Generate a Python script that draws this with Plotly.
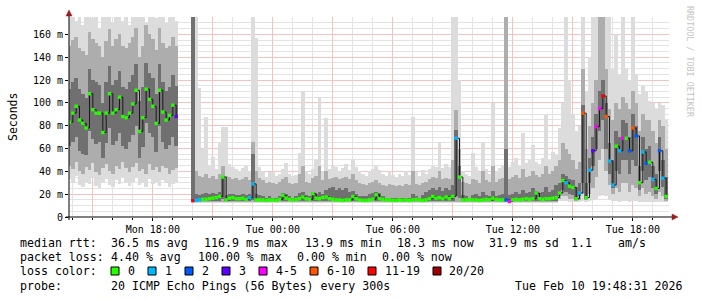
import plotly.graph_objects as go
from datetime import datetime, timedelta

# ---------------- data: 10-minute steps starting Mon 2026-02-09 13:50 ----------------
start_time = datetime(2026, 2, 9, 13, 50)
step_minutes = 10

median_ms = (
    [83, 91, 97, 85, 82, 78, 108, 94, 91, 91, 74, 91, 108, 91, 94, 105, 88, 87, 91, 99,
     111, 75, 87, 112, 103, 97, 82, 111, 92, 85, 89, 98, 88]
    + [None, None, None, None]
    + [14.3]
    + [14.5, 15, 15.5, 15.5, 16, 16.5, 17, 18, 35, 15,
       16.5, 17, 16, 16, 16.5, 15.5, 17, 29, 15, 15,
       15, 14.5, 15, 15, 14.5, 15.5, 19, 16.5, 15.5, 15,
       15.5, 16, 17.5, 16, 15.5, 20.5, 16.5, 16, 17, 17.5,
       16, 15.5, 15, 15, 14.5, 15, 15, 18, 16, 15,
       14.5, 14.5, 15, 15.5, 19.5, 16, 15.5, 15, 15, 14.5,
       14.5, 15, 14.5, 15, 14.5, 15, 15.5, 15, 14.5, 15,
       16, 18, 16.5, 17, 16, 17.5, 16, 18, 69, 35,
       15, 15, 15.5, 15, 15, 14.5, 15, 15.5, 15, 16.5,
       15.5, 15, 15, 15, 13.6, 15, 15.5, 15, 15.5, 16,
       15.5, 16, 21, 16, 15.5, 16, 16, 16.5, 17]
    + [21, 32, 30, 27, 26, 16, 21, 91, 17, 41, 58, 79, 95, 106, 88, 49, 28, 62, 58, 69,
       69, 58, 78, 71, 30, 57, 47, 48, 33, 25, 58, 34, 18]
)

loss_pings = (
    [0] * 32 + [3]
    + [None, None, None, None]
    + [15]
    + [1, 1, 0, 0, 0, 0, 0, 0, 0, 0,
       0, 0, 0, 0, 0, 0, 1, 1, 0, 0,
       0, 0, 0, 0, 0, 0, 0, 0, 0, 0,
       0, 0, 0, 0, 0, 0, 0, 0, 0, 0,
       0, 0, 0, 0, 0, 0, 0, 0, 0, 0,
       0, 0, 0, 0, 0, 0, 0, 0, 0, 0,
       0, 0, 0, 0, 0, 0, 0, 0, 0, 0,
       0, 0, 0, 0, 0, 0, 0, 0, 1, 0,
       0, 0, 0, 0, 0, 0, 0, 0, 0, 0,
       0, 0, 0, 2, 4, 0, 0, 0, 0, 0,
       0, 0, 0, 0, 0, 0, 0, 0, 0]
    + [0, 0, 1, 0, 0, 0, 1, 8, 0, 1, 3, 4, 5, 15, 8, 1, 1, 0, 1, 4,
       0, 2, 8, 2, 0, 1, 2, 0, 1, 0, 2, 1, 0]
)

smoke_min = (
    [33, 30, 36, 28, 26, 31, 29, 34, 27, 25, 30, 33, 28, 26, 32, 29, 35, 30, 27, 31,
     34, 28, 30, 26, 33, 29, 31, 27, 32, 30, 26, 29, 31]
    + [None, None, None, None]
    + [13]
    + [12, 12, 12, 12, 12, 12, 12, 12, 12, 12, 12, 12, 12, 12, 12, 12, 12, 12, 12, 12,
       12, 12, 12, 12, 12, 12, 12, 12, 12, 12, 12, 12, 12, 12, 12, 12, 12, 12, 12, 12,
       12, 12, 12, 12, 12, 12, 12, 12, 12, 12, 12, 12, 12, 12, 12, 12, 12, 12, 12, 12,
       12, 12, 12, 12, 12, 12, 12, 12, 12, 12, 12, 12, 12, 12, 12, 12, 12, 12, 12, 12,
       12, 12, 12, 12, 12, 12, 12, 12, 12, 12, 12, 12, 12, 12, 12, 12, 12, 12, 12, 12,
       12, 12, 12, 12, 12, 12, 12, 12, 12]
    + [14, 14, 14, 13, 13, 13, 13, 14, 13, 14, 15, 16, 18, 20, 18, 15, 14, 14, 13, 14,
       14, 13, 14, 14, 13, 13, 13, 13, 13, 13, 13, 13, 13]
)

smoke_p10 = (
    [45, 42, 48, 40, 38, 44, 41, 47, 39, 37, 43, 46, 40, 38, 45, 42, 48, 43, 39, 44,
     47, 40, 42, 38, 46, 41, 44, 39, 45, 43, 38, 41, 43]
    + [None, None, None, None]
    + [13.5]
    + [13, 13, 13, 13, 13, 13, 13, 13, 13, 13, 13, 13, 13, 13, 13, 13, 13, 13, 13, 13,
       13, 13, 13, 13, 13, 13, 13, 13, 13, 13, 13, 13, 13, 13, 13, 13, 13, 13, 13, 13,
       13, 13, 13, 13, 13, 13, 13, 13, 13, 13, 13, 13, 13, 13, 13, 13, 13, 13, 13, 13,
       13, 13, 13, 13, 13, 13, 13, 13, 13, 13, 13, 13, 13, 13, 13, 13, 13, 13, 13, 13,
       13, 13, 13, 13, 13, 13, 13, 13, 13, 13, 13, 13, 13, 13, 13, 13, 13, 13, 13, 13,
       13, 13, 13, 13, 13, 13, 13, 13, 13]
    + [16, 18, 18, 16, 16, 14, 15, 20, 15, 20, 25, 35, 50, 60, 40, 28, 20, 25, 22, 30,
       30, 22, 28, 25, 18, 25, 20, 22, 18, 16, 22, 18, 14]
)

smoke_p30 = (
    [62, 66, 70, 58, 55, 54, 75, 68, 64, 66, 52, 65, 78, 63, 67, 74, 62, 60, 66, 72,
     80, 52, 61, 82, 74, 70, 57, 80, 66, 60, 63, 70, 62]
    + [None, None, None, None]
    + [14]
    + [14, 14, 14, 14, 14, 14, 14, 14, 16, 14, 14, 14, 14, 14, 14, 14, 14, 15, 14, 14,
       14, 14, 14, 14, 14, 14, 14, 14, 14, 14, 14, 14, 14, 14, 14, 14, 14, 14, 14, 14,
       14, 14, 14, 14, 14, 14, 14, 14, 14, 14, 14, 14, 14, 14, 14, 14, 14, 14, 14, 14,
       14, 14, 14, 14, 14, 14, 14, 14, 14, 14, 14, 14, 14, 14, 14, 14, 14, 14, 18, 17,
       14, 14, 14, 14, 14, 14, 14, 14, 14, 14, 14, 14, 14, 14, 14, 14, 14, 14, 14, 14,
       14, 14, 14, 14, 14, 14, 14, 14, 14]
    + [18, 24, 22, 20, 19, 15, 18, 30, 16, 30, 45, 60, 75, 85, 60, 38, 25, 40, 38, 50,
       50, 38, 50, 45, 24, 40, 32, 35, 25, 20, 40, 26, 16]
)

smoke_p70 = (
    [112, 118, 122, 112, 108, 104, 130, 120, 118, 116, 100, 118, 132, 116, 120, 128, 114, 112, 118, 124,
     134, 102, 114, 135, 126, 122, 108, 134, 118, 110, 114, 124, 115]
    + [None, None, None, None]
    + [180]
    + [20, 19, 20, 21, 20, 21, 20, 22, 36, 19, 20, 20, 19, 19, 20, 19, 20, 55, 20, 19,
       18, 17, 18, 17, 17, 18, 21, 20, 18, 17, 18, 21, 22, 19, 18, 22, 20, 22, 20, 24,
       25, 26, 24, 25, 24, 25, 22, 23, 20, 18, 18, 18, 20, 21, 22, 21, 18, 17, 17, 17,
       17, 17, 17, 17, 17, 20, 18, 17, 19, 22, 24, 25, 24, 26, 23, 25, 24, 28, 76, 45,
       19, 18, 17, 19, 20, 18, 22, 19, 18, 23, 18, 19, 20, 60, 19, 20, 22, 20, 24, 21,
       22, 25, 23, 21, 22, 26, 22, 24, 28]
    + [30, 38, 36, 33, 32, 26, 30, 98, 30, 52, 70, 90, 110, 120, 100, 65, 50, 75, 70, 85,
       82, 70, 90, 80, 45, 70, 60, 62, 45, 38, 70, 50, 35]
)

smoke_p90 = (
    [150, 155, 158, 148, 145, 142, 162, 156, 152, 150, 140, 154, 165, 150, 156, 160, 150, 148, 152, 158,
     166, 140, 150, 168, 160, 156, 146, 166, 152, 148, 150, 158, 150]
    + [None, None, None, None]
    + [180]
    + [40, 36, 35, 38, 34, 36, 33, 38, 45, 36, 35, 33, 34, 32, 33, 35, 32, 66, 40, 34,
       32, 30, 31, 30, 29, 31, 33, 35, 30, 29, 30, 38, 45, 31, 30, 34, 36, 45, 32, 40,
       33, 34, 35, 33, 34, 35, 33, 38, 32, 30, 29, 28, 30, 31, 32, 30, 28, 27, 29, 28,
       27, 28, 27, 29, 28, 40, 29, 28, 30, 31, 33, 35, 34, 40, 33, 34, 33, 50, 94, 60,
       31, 30, 29, 33, 32, 30, 40, 32, 31, 45, 31, 33, 34, 176, 33, 35, 37, 34, 42, 35,
       36, 40, 37, 35, 38, 45, 38, 40, 45]
    + [50, 65, 60, 55, 50, 42, 48, 130, 60, 80, 100, 120, 180, 180, 130, 95, 85, 100, 95, 105,
       100, 95, 110, 100, 75, 90, 85, 85, 75, 65, 85, 80, 60]
)

smoke_max = (
    [180, 176, 172, 180, 168, 180, 180, 174, 180, 166, 180, 178, 180, 170, 180, 180, 172, 180, 168, 180,
     180, 176, 180, 170, 180, 180, 174, 180, 180, 170, 180, 176, 172]
    + [None, None, None, None]
    + [180]
    + [176, 113, 60, 88, 45, 53, 42, 65, 79, 79, 46, 44, 42, 40, 43, 45, 40, 176, 157, 44,
       40, 35, 39, 39, 36, 38, 42, 47, 38, 36, 37, 56, 110, 40, 38, 42, 50, 105, 40, 87,
       42, 45, 44, 40, 43, 46, 41, 51, 44, 40, 38, 36, 40, 42, 45, 41, 38, 36, 40, 37,
       35, 38, 36, 40, 37, 88, 39, 36, 41, 38, 42, 45, 44, 66, 43, 46, 44, 176, 176, 120,
       40, 38, 36, 56, 44, 39, 66, 42, 38, 100, 40, 43, 45, 180, 44, 48, 52, 45, 74, 47,
       50, 63, 48, 46, 52, 89, 50, 57, 54]
    + [78, 100, 180, 120, 90, 75, 80, 180, 110, 140, 180, 180, 180, 180, 180, 180, 130, 160, 125, 180,
       130, 120, 180, 125, 108, 115, 110, 102, 100, 95, 100, 98, 85]
)

y_tick_values = [0, 20, 40, 60, 80, 100, 120, 140, 160]
y_tick_labels = ["0", "20 m", "40 m", "60 m", "80 m", "100 m", "120 m", "140 m", "160 m"]
y_minor_values = [5, 10, 15, 25, 30, 35, 45, 50, 55, 65, 70, 75, 85, 90, 95, 105, 110, 115,
                  125, 130, 135, 145, 150, 155, 165, 170, 175]
x_tick_values = ["2026-02-09 15:00", "2026-02-09 18:00", "2026-02-09 21:00", "2026-02-10 00:00",
                 "2026-02-10 03:00", "2026-02-10 06:00", "2026-02-10 09:00", "2026-02-10 12:00",
                 "2026-02-10 15:00", "2026-02-10 18:00"]
x_tick_labels = ["", "Mon 18:00", "", "Tue 00:00", "", "Tue 06:00", "", "Tue 12:00", "", "Tue 18:00"]

loss_classes = ["0", "1", "2", "3", "4-5", "6-10", "11-19", "20/20"]
loss_class_colors = ["#26ff00", "#00b8ff", "#0059ff", "#5e00ff", "#ff00ff", "#ff5500", "#ff0000", "#a10000"]

stats_rtt = ["median rtt:", "36.5 ms avg", "116.9 ms max", "13.9 ms min", "18.3 ms now", "31.9 ms sd", "1.1", "am/s"]
stats_loss = ["packet loss:", "4.40 % avg", "100.00 % max", "0.00 % min", "0.00 % now"]
probe_text = ["probe:", "20 ICMP Echo Pings (56 Bytes) every 300s", "Tue Feb 10 19:48:31 2026"]

# ---------------- helpers ----------------
W, H = 701, 300
L, R, T, B = 69, 32, 17, 83
PW, PH = W - L - R, H - T - B


def pxx(x):
    return (x - L) / PW


def pxy(y):
    return (H - B - y) / PH


def loss_color(n):
    if n is None:
        return "rgba(0,0,0,0)"
    if n == 0:
        return loss_class_colors[0]
    if n == 1:
        return loss_class_colors[1]
    if n == 2:
        return loss_class_colors[2]
    if n == 3:
        return loss_class_colors[3]
    if n <= 5:
        return loss_class_colors[4]
    if n <= 10:
        return loss_class_colors[5]
    if n <= 19:
        return loss_class_colors[6]
    return loss_class_colors[7]


times = [start_time + timedelta(minutes=step_minutes * i) for i in range(len(median_ms))]
bar_width_ms = step_minutes * 60 * 1000 * 1.04


def band(lo, hi, color):
    base = [a if (a is not None and b is not None) else None for a, b in zip(lo, hi)]
    hgt = [(b - a) if (a is not None and b is not None) else None for a, b in zip(lo, hi)]
    return go.Bar(x=times, y=hgt, base=base, width=bar_width_ms,
                  marker=dict(color=color, line=dict(width=0)),
                  hoverinfo="skip", showlegend=False)


fig = go.Figure()
fig.add_trace(band(smoke_min, smoke_max, "#dcdcdc"))
fig.add_trace(band(smoke_p10, smoke_p90, "#adadad"))
fig.add_trace(band(smoke_p30, smoke_p70, "#707070"))
fig.add_trace(go.Scatter(x=times, y=median_ms, mode="lines", line=dict(color="#1a1a1a", width=1, shape="hv"),
                         hoverinfo="skip", showlegend=False))
fig.add_trace(go.Scatter(x=times, y=median_ms, mode="markers",
                         marker=dict(symbol="square", size=3.4, color=[loss_color(n) for n in loss_pings],
                                     line=dict(width=0)),
                         hoverinfo="skip", showlegend=False))

shapes = []
# axis lines
shapes.append(dict(type="line", xref="paper", yref="paper", x0=pxx(66), x1=pxx(673), y0=0, y1=0,
                   line=dict(color="black", width=1), layer="above"))
shapes.append(dict(type="line", xref="paper", yref="paper", x0=0, x1=0, y0=pxy(220), y1=pxy(14),
                   line=dict(color="black", width=1), layer="above"))
# arrows
arrow_col = "#9b1c1c"
shapes.append(dict(type="path", xref="paper", yref="paper", layer="above",
                   path="M {} {} L {} {} L {} {} Z".format(pxx(66), pxy(16), pxx(72), pxy(16), pxx(69), pxy(10)),
                   fillcolor=arrow_col, line=dict(color=arrow_col, width=0.5)))
shapes.append(dict(type="path", xref="paper", yref="paper", layer="above",
                   path="M {} {} L {} {} L {} {} Z".format(pxx(672), pxy(214), pxx(672), pxy(220), pxx(678), pxy(217)),
                   fillcolor=arrow_col, line=dict(color=arrow_col, width=0.5)))

mono = "DejaVu Sans Mono"
leg_font = dict(family=mono, size=11.6, color="black")
annotations = []


def txt(x, y, s, anchor="left", font=leg_font):
    annotations.append(dict(x=pxx(x), y=pxy(y), xref="paper", yref="paper", text=s, showarrow=False,
                            xanchor=anchor, yanchor="middle", font=font, borderpad=0))


rtt_x = [18.8, 109.5, 203.4, 304, 396.5, 488, 570, 617]
for x, s in zip(rtt_x, stats_rtt):
    txt(x, 243, s)
loss_x = [18.8, 109.5, 196.7, 296, 381]
for x, s in zip(loss_x, stats_loss):
    txt(x, 257, s)
txt(18.8, 271, "loss color:")
box_x = [111, 148, 185, 222, 259, 310, 368, 433]
for bx, lab, col in zip(box_x, loss_classes, loss_class_colors):
    shapes.append(dict(type="rect", xref="paper", yref="paper", x0=pxx(bx), x1=pxx(bx + 8),
                       y0=pxy(275), y1=pxy(267), fillcolor=col, line=dict(color="black", width=1)))
    txt(bx + 15.5, 271, lab)
txt(18.8, 286, probe_text[0])
txt(110.4, 286, probe_text[1])
txt(684, 286, probe_text[2], anchor="right")

annotations.append(dict(x=pxx(13), y=pxy(117), xref="paper", yref="paper", text="Seconds", showarrow=False,
                        textangle=-90, xanchor="center", yanchor="middle",
                        font=dict(family=mono, size=11.5, color="black")))
annotations.append(dict(x=pxx(690), y=pxy(62), xref="paper", yref="paper", text="RRDTOOL / TOBI OETIKER",
                        showarrow=False, textangle=90, xanchor="center", yanchor="middle",
                        font=dict(family=mono, size=8.4, color="#c4c4c4")))

hour0 = datetime(2026, 2, 9, 14, 0)
minor_x = [hour0 + timedelta(hours=h) for h in range(30)]

major_grid = "#f5c2c2"
minor_grid = "#e3e3e3"

fig.update_layout(
    width=W, height=H, margin=dict(l=L, r=R, t=T, b=B, pad=0),
    paper_bgcolor="white", plot_bgcolor="white",
    barmode="overlay", bargap=0, showlegend=False,
    shapes=shapes, annotations=annotations,
    xaxis=dict(type="date", range=["2026-02-09 13:48:31", "2026-02-10 19:48:31"],
               tickmode="array", tickvals=x_tick_values, ticktext=x_tick_labels,
               ticks="outside", ticklen=3, tickcolor="black", tickwidth=1,
               tickfont=dict(family=mono, size=10, color="black"),
               showgrid=True, gridcolor=major_grid, gridwidth=1,
               zeroline=False, showline=False,
               minor=dict(tickmode="array", tickvals=minor_x, ticks="outside", ticklen=2,
                          tickcolor="black", showgrid=True, gridcolor=minor_grid, gridwidth=1)),
    yaxis=dict(range=[0, 175.2], tickmode="array", tickvals=y_tick_values, ticktext=y_tick_labels,
               ticks="outside", ticklen=3, tickcolor="black", tickwidth=1,
               tickfont=dict(family=mono, size=10, color="black"),
               showgrid=True, gridcolor=major_grid, gridwidth=1,
               zeroline=False, showline=False,
               minor=dict(tickmode="array", tickvals=y_minor_values, ticks="", showgrid=True,
                          gridcolor=minor_grid, gridwidth=1)),
)

fig.write_html("out.html")
